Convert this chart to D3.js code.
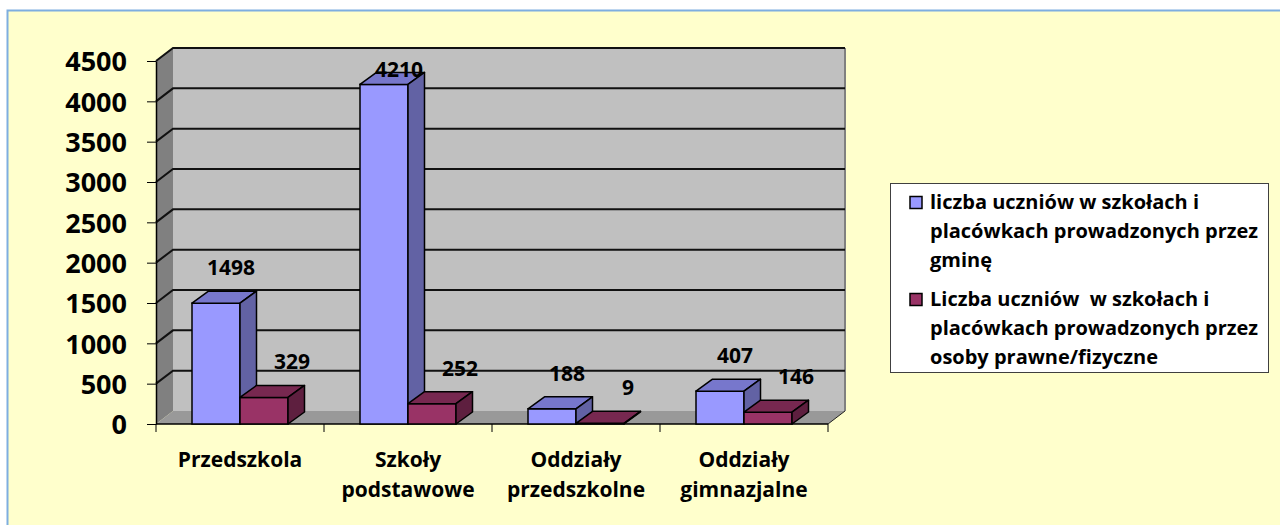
<!DOCTYPE html>
<html>
<head>
<meta charset="utf-8">
<script src="https://cdn.jsdelivr.net/npm/d3@7"></script>
<style>
  body { margin: 0; background: #fff; }
  svg text { font-family: "Open Sans", sans-serif; font-weight: 700; fill: #000; white-space: pre; }
</style>
</head>
<body>
<div id="grafico"></div>
<script>
// Dane
var kategorie = ["Przedszkola", "Szkoły\npodstawowe", "Oddziały\nprzedszkolne", "Oddziały\ngimnazjalne"];
var gmina = [1498, 4210, 188, 407];
var prawne = [329, 252, 9, 146];
var serie = [
  "liczba uczniów w szkołach i\nplacówkach prowadzonych przez\ngminę",
  "Liczba uczniów  w szkołach i\nplacówkach prowadzonych przez\nosoby prawne/fizyczne"
];
var yTicks = [0, 500, 1000, 1500, 2000, 2500, 3000, 3500, 4000, 4500];

var W = 1280, H = 525;
// glebokosc scian i slupkow (3D)
var wx = 17, wy = 13, bx = 16.5, by = 12;

var svg = d3.select("#grafico").append("svg")
  .attr("width", W).attr("height", H);

// Tlo
svg.append("rect")
  .attr("x", 7.5).attr("y", 10.5).attr("width", 1290).attr("height", 530)
  .attr("fill", "#ffffcc").attr("stroke", "#7eaee0").attr("stroke-width", 2);

// Skale
var x = d3.scaleBand().domain(kategorie).range([156, 828]);
var xs = d3.scaleBand().domain([0, 1]).range([36, 132]);
var y = d3.scaleLinear().domain([0, 4500]).range([424, 61]);

var x0 = x.range()[0], x1 = x.range()[1], y0 = y(0), yTop = y(4500);

// Sciana tylna
svg.append("rect")
  .attr("x", x0 + wx).attr("y", yTop - wy)
  .attr("width", x1 - x0).attr("height", y0 - yTop)
  .attr("fill", "#c0c0c0");
// Sciana boczna
svg.append("path")
  .attr("d", "M" + x0 + "," + y0 + "L" + x0 + "," + yTop + "L" + (x0 + wx) + "," + (yTop - wy) + "L" + (x0 + wx) + "," + (y0 - wy) + "Z")
  .attr("fill", "#808080");
// Podloga
svg.append("path")
  .attr("d", "M" + x0 + "," + y0 + "L" + (x0 + wx) + "," + (y0 - wy) + "L" + (x1 + wx) + "," + (y0 - wy) + "L" + x1 + "," + y0 + "Z")
  .attr("fill", "#999999");
// prawa krawedz
svg.append("line")
  .attr("x1", x1 + wx).attr("x2", x1 + wx).attr("y1", yTop - wy).attr("y2", y0 - wy)
  .attr("stroke", "#808080").attr("stroke-width", 2);
svg.append("line")
  .attr("x1", x1).attr("x2", x1 + wx).attr("y1", y0).attr("y2", y0 - wy)
  .attr("stroke", "#222").attr("stroke-width", 1);

// Linie siatki
var siatka = svg.append("g");
yTicks.filter(function(d) { return d > 0; }).forEach(function(d) {
  siatka.append("path")
    .attr("d", "M" + x0 + "," + y(d) + "L" + (x0 + wx) + "," + (y(d) - wy) + "L" + (x1 + wx) + "," + (y(d) - wy))
    .attr("fill", "none").attr("stroke", "#111").attr("stroke-width", 2);
});

// Os Y
var osY = svg.append("g")
  .attr("transform", "translate(" + x0 + ",0)")
  .call(d3.axisLeft(y).tickValues(yTicks).tickFormat(d3.format("d"))
    .tickSize(9).tickSizeOuter(0).tickPadding(20));
osY.select(".domain").attr("stroke", "#000").attr("stroke-width", 1.5);
osY.selectAll(".tick line").attr("stroke", "#000").attr("stroke-width", 1);
osY.selectAll(".tick text")
  .style("font-size", "27px").style("font-family", "'Open Sans'").style("font-weight", 700)
  .attr("dy", "0.36em");

// Os X
svg.append("line")
  .attr("x1", x0).attr("x2", x1).attr("y1", y0).attr("y2", y0)
  .attr("stroke", "#000").attr("stroke-width", 1.5);
kategorie.map(function(c) { return x(c); }).concat([x1]).forEach(function(p) {
  svg.append("line")
    .attr("x1", p).attr("x2", p).attr("y1", y0).attr("y2", y0 + 8)
    .attr("stroke", "#000").attr("stroke-width", 1);
});
kategorie.forEach(function(c) {
  var t = svg.append("text")
    .attr("text-anchor", "middle")
    .attr("x", x(c) + x.bandwidth() / 2)
    .attr("y", 467)
    .style("font-size", "21px");
  c.split("\n").forEach(function(l, i) {
    t.append("tspan").attr("x", x(c) + x.bandwidth() / 2).attr("y", 467 + i * 30).text(l);
  });
});

// Slupki 3D
var kolory = [
  {front: "#9999ff", top: "#7777cc", side: "#6262a4"},
  {front: "#993366", top: "#772850", side: "#5e1f3f"}
];
var dane = [gmina, prawne];
var offsetEtykiety = [15, 28];

kategorie.forEach(function(c, i) {
  [0, 1].forEach(function(s) {
    var v = dane[s][i];
    var bx0 = x(c) + xs(s), bw = xs.bandwidth();
    var yt = y(v);
    var g = svg.append("g");
    g.append("rect")
      .attr("x", bx0).attr("y", yt).attr("width", bw).attr("height", y0 - yt)
      .attr("fill", kolory[s].front).attr("stroke", "#000").attr("stroke-width", 1.5);
    g.append("path")
      .attr("d", "M" + bx0 + "," + yt + "L" + (bx0 + bx) + "," + (yt - by) + "L" + (bx0 + bw + bx) + "," + (yt - by) + "L" + (bx0 + bw) + "," + yt + "Z")
      .attr("fill", kolory[s].top).attr("stroke", "#000").attr("stroke-width", 1.5).attr("stroke-linejoin", "round");
    g.append("path")
      .attr("d", "M" + (bx0 + bw) + "," + yt + "L" + (bx0 + bw + bx) + "," + (yt - by) + "L" + (bx0 + bw + bx) + "," + (y0 - by) + "L" + (bx0 + bw) + "," + y0 + "Z")
      .attr("fill", kolory[s].side).attr("stroke", "#000").attr("stroke-width", 1.5).attr("stroke-linejoin", "round");
  });
});

// Etykiety wartosci
kategorie.forEach(function(c, i) {
  [0, 1].forEach(function(s) {
    var v = dane[s][i];
    var bx0 = x(c) + xs(s);
    var base = Math.max(y(v) - by - 16, 77);
    svg.append("text")
      .attr("text-anchor", "middle")
      .attr("x", bx0 + xs.bandwidth() / 2 + offsetEtykiety[s])
      .attr("y", base)
      .style("font-size", "21px")
      .text(v);
  });
});

// Legenda
var leg = svg.append("g");
leg.append("rect")
  .attr("x", 890.5).attr("y", 183.5).attr("width", 378).attr("height", 189)
  .attr("fill", "#fff").attr("stroke", "#404040").attr("stroke-width", 1);
serie.forEach(function(n, s) {
  var top = 208.5 + s * 97;
  leg.append("rect")
    .attr("x", 910).attr("y", top - 12).attr("width", 12).attr("height", 12)
    .attr("fill", kolory[s].front).attr("stroke", "#000").attr("stroke-width", 1.5);
  var t = leg.append("text").style("font-size", "20px");
  n.split("\n").forEach(function(l, i) {
    t.append("tspan").attr("x", 930).attr("y", top + i * 29).text(l);
  });
});
</script>
</body>
</html>
